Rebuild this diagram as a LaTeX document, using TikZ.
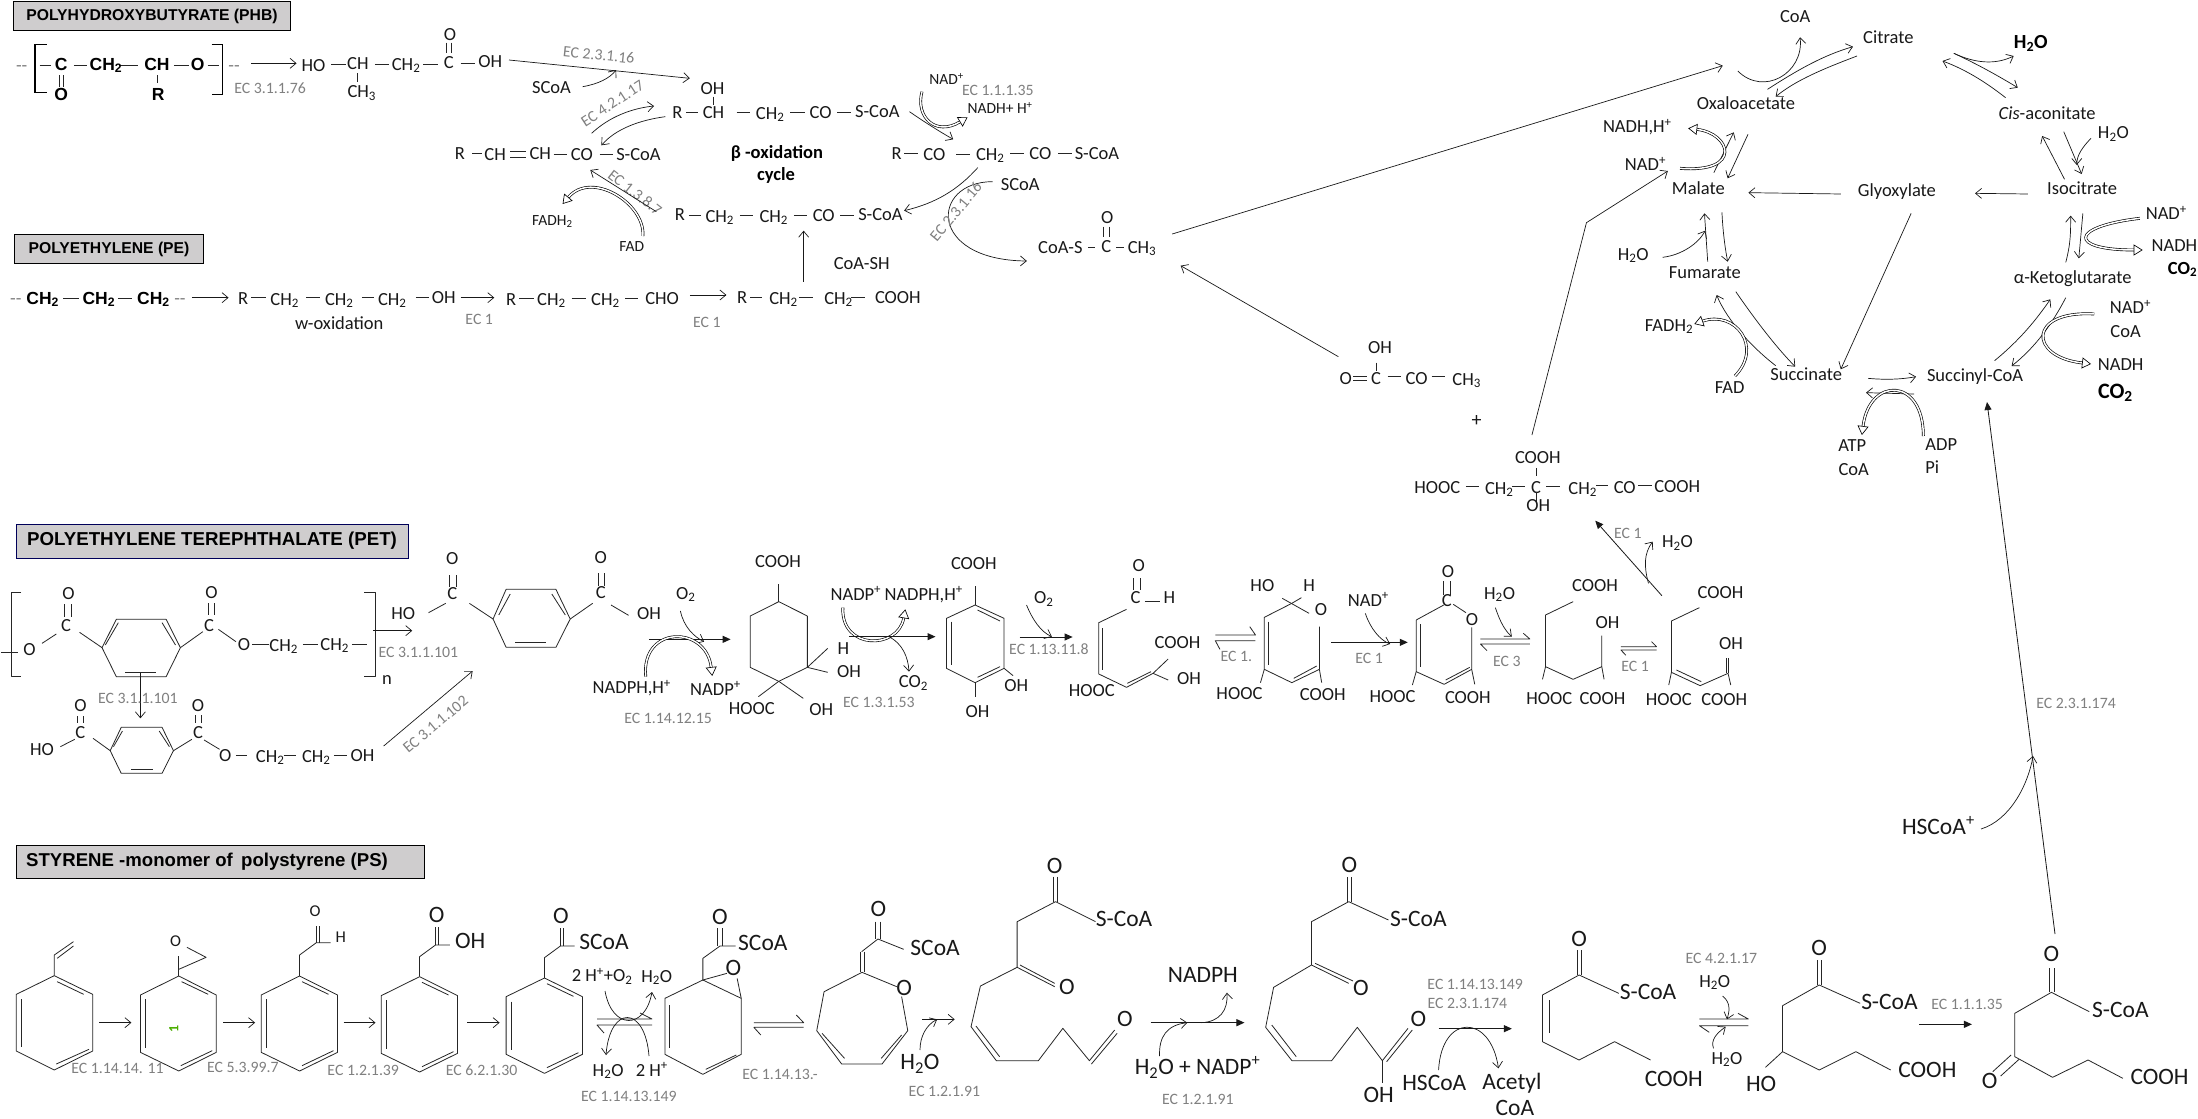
\documentclass[tikz,border=0pt]{standalone}
\usepackage{fontspec}
\setmainfont{Carlito}
\newfontfamily\arb{Liberation Sans}
\usetikzlibrary{arrows.meta}
\newcounter{nn}\newcounter{cc}
\newcommand{\Sb}[1]{\textsubscript{#1}}
\newcommand{\Sp}[1]{\textsuperscript{#1}}
\definecolor{ecgray}{HTML}{808080}
\definecolor{boxgray}{HTML}{CFCDCE}
\tikzset{
 lb/.style={inner sep=0pt,anchor=base,yshift=-6pt,text=black!90,font=\fontsize{18.5}{20}\selectfont},
 ts/.style={inner sep=0pt,anchor=base,yshift=-5pt,text=ecgray,font=\fontsize{15.8}{18}\selectfont},
 tl/.style={inner sep=0pt,anchor=base,yshift=-7.6pt,text=black!90,font=\fontsize{23.5}{26}\selectfont},
 tb/.style={inner sep=0pt,anchor=base,yshift=-6pt,text=black,font=\fontsize{17.5}{20}\selectfont\bfseries\arb},
 tsm/.style={inner sep=0pt,anchor=base,yshift=-5pt,text=black!90,font=\fontsize{15.5}{18}\selectfont},
 tbd/.style={inner sep=0pt,anchor=base,yshift=-6pt,text=black,font=\fontsize{18.5}{20}\selectfont\bfseries},
 bond/.style={line width=0.8pt,draw=black!85,line join=round},
 bondb/.style={line width=1.3pt,draw=black},
 arr/.style={line width=0.7pt,draw=black!90,-{Straight Barb[length=6pt,width=10pt]}},
 farr/.style={line width=1pt,draw=black!90,-{Triangle[length=8pt,width=7pt]}},
 hol/.style={line width=0.65pt,draw=black,double=white,double distance=1.5pt,-{Triangle[open,fill=white,length=9pt,width=11pt]}},
 tbox/.style={draw=black,line width=1pt,fill=boxgray,inner sep=0pt},
}
\newcommand{\Tx}[4][lb]{\stepcounter{nn}\node[#1] (n\arabic{nn}) at (#2,#3) {#4};}
\newcommand{\Bd}[2]{\draw[bond] (#1) -- (#2);}
\newcommand{\Cn}[3][]{\stepcounter{cc}\coordinate (a\arabic{cc}) at (#2);\coordinate (b\arabic{cc}) at (#3);\draw[arr,#1] (a\arabic{cc}) -- (b\arabic{cc});}
\newcommand{\Cv}[5][]{\stepcounter{cc}\coordinate (a\arabic{cc}) at (#2);\coordinate (b\arabic{cc}) at (#5);\draw[arr,#1] (a\arabic{cc}) .. controls (#3) and (#4) .. (b\arabic{cc});}
\begin{document}
\begin{tikzpicture}[x=1pt,y=-1pt]
\useasboundingbox (0,0) rectangle (2198,1119);
\fill[white] (0,0) rectangle (2198,1119);
% title boxes
\node[tbox,minimum width=277pt,minimum height=29pt,font=\fontsize{15.7}{17}\selectfont\bfseries\arb] (tphb) at (152,16) {POLYHYDROXYBUTYRATE (PHB)};
\node[tbox,minimum width=189pt,minimum height=29pt,font=\fontsize{15.7}{17}\selectfont\bfseries\arb] (tpe) at (109,249) {POLYETHYLENE (PE)};
\node[tbox,draw=blue!35!black,minimum width=392pt,minimum height=34pt,font=\fontsize{18.7}{20}\selectfont\bfseries\arb] (tpet) at (212,541) {POLYETHYLENE TEREPHTHALATE (PET)};
\node[tbox,minimum width=408pt,minimum height=33pt] (tps) at (220,862) {};
\node[anchor=west,inner sep=0pt,font=\fontsize{18.6}{20}\selectfont\bfseries\arb] (tpst) at (26,862) {STYRENE -monomer of\, polystyrene (PS)};

% ---------- z1
\begin{scope}[x=0.39541pt,y=-0.33333pt]
\Tx[lb,text=gray]{55}{197}{{-}{-}}
\draw[bondb,line width=1.6pt] (118,133)--(88,133)--(88,278)--(118,278);
\draw[bondb,line width=1.6pt] (535,133)--(563,133)--(563,283)--(535,283);
\Bd{100,197}{130,197}\Bd{187,197}{220,197}\Bd{300,197}{350,197}\Bd{440,197}{478,197}\Bd{525,197}{555,197}
\Tx[tb]{155}{192}{C}\Tx[tb]{268}{192}{CH\Sb{2}}\Tx[tb]{397}{192}{CH}\Tx[tb]{500}{192}{O}\Tx[tb]{155}{282}{O}\Tx[tb]{400}{284}{R}
\Bd{150,225}{150,262}\Bd{161,225}{161,262}\Bd{397,225}{397,250}
\Tx[lb,text=gray]{592}{197}{{-}{-}}
\Cn{635,190}{750,190}
\Tx[ts]{683}{265}{EC 3.1.1.76}
\Tx{793}{195}{HO}\Bd{838,193}{875,193}\Tx{905}{190}{CH}\Bd{948,193}{985,193}\Tx{1027}{192}{CH\Sb{2}}\Bd{1070,193}{1108,193}\Tx{1135}{188}{C}\Bd{1165,190}{1200,190}\Tx{1240}{184}{OH}
\Tx{1138}{102}{O}\Bd{1130,128}{1130,158}\Bd{1142,128}{1142,158}\Tx{915}{275}{CH\Sb{3}}\Bd{905,220}{905,245}
% PE row
\Tx[lb,text=gray]{40}{895}{{-}{-}}
\Tx[tb]{108}{895}{CH\Sb{2}}\Bd{160,895}{200,895}\Tx[tb]{250}{895}{CH\Sb{2}}\Bd{298,895}{335,895}\Tx[tb]{388}{895}{CH\Sb{2}}
\Tx[lb,text=gray]{455}{895}{{-}{-}}
\Cn{485,893}{578,893}
\Tx{615}{895}{R}\Bd{635,893}{672,893}\Tx{720}{898}{CH\Sb{2}}\Bd{775,893}{810,893}\Tx{858}{898}{CH\Sb{2}}\Bd{915,893}{945,893}\Tx{992}{898}{CH\Sb{2}}\Bd{1052,893}{1085,893}\Tx{1122}{892}{OH}
\Cn{1165,893}{1250,893}
\Tx{858}{972}{w-oxidation}
\Tx[ts]{1212}{960}{EC 1}
\end{scope}

% ---------- z2
\begin{scope}[x=0.44643pt,y=-0.33333pt,shift={(480pt,0pt)}]
\Cn{65,180}{470,235}
\Tx[ts,rotate=-6]{265}{165}{EC 2.3.1.16}
\Tx{160}{262}{SCoA}
\Cv{230,260}{265,252}{290,235}{305,210}
\Tx[ts,rotate=33]{303}{308}{EC 4.2.1.17}
\Tx{521}{265}{OH}\Bd{523,290}{523,315}
\Tx{442}{337}{R}\Bd{462,338}{488,338}\Tx{523}{337}{CH}\Bd{575,338}{605,338}\Tx{650}{340}{CH\Sb{2}}\Bd{695,338}{727,338}\Tx{763}{337}{CO}\Bd{800,338}{832,338}\Tx{890}{335}{S-CoA}
\Cv{250,400}{290,350}{340,325}{390,318}
\Cv{415,350}{360,360}{305,385}{272,436}
% R-CH=CH-CO
\Tx{-45}{460}{R}\Bd{-17,460}{5,460}\Tx{34}{463}{CH}
\Tx{135}{460}{CH}\Bd{68,455}{104,455}\Bd{68,471}{104,471}\Tx{228}{463}{CO}\Bd{165,462}{195,462}\Bd{268,462}{298,462}\Tx{355}{463}{S-CoA}
\Tx[ts,rotate=-38]{340}{575}{EC 1.3.8.7}
\Cn{395,635}{247,510}
\Tx[tsm]{162}{660}{FADH\Sb{2}}\Tx[tsm]{340}{738}{FAD}
\stepcounter{cc}\coordinate (a\arabic{cc}) at (365,708);\coordinate (b\arabic{cc}) at (185,612);
\draw[hol] (a\arabic{cc}) .. controls (370,610) and (250,510) .. (b\arabic{cc});
\Tx[tbd]{665}{458}{β -oxidation}\Tx[tbd]{663}{523}{cycle}
\Tx[tsm]{1045}{238}{NAD\Sp{+}}\Tx[ts]{1160}{270}{EC 1.1.1.35}\Tx[tsm]{1165}{325}{NADH+ H\Sp{+}}
\Cv{962,335}{1000,370}{1030,395}{1060,418}
\stepcounter{cc}\coordinate (a\arabic{cc}) at (990,275);\coordinate (b\arabic{cc}) at (1092,352);
\draw[hol] (a\arabic{cc}) .. controls (975,350) and (1020,410) .. (b\arabic{cc});
\Tx{933}{460}{R}\Bd{950,460}{980,460}\Tx{1018}{463}{CO}\Bd{1067,462}{1098,462}\Tx{1143}{463}{CH\Sb{2}}\Bd{1188,460}{1218,460}\Tx{1255}{460}{CO}\Bd{1295,460}{1325,460}\Tx{1382}{460}{S-CoA}
\Tx{1210}{553}{SCoA}
\Cv{1115,503}{1070,570}{1020,610}{950,632}
\Cv{1148,545}{1010,545}{1000,780}{1225,783}
\Tx[ts,rotate=50]{1075}{630}{EC 2.3.1.16}
\Tx{448}{643}{R}\Bd{468,645}{495,645}\Tx{537}{648}{CH\Sb{2}}\Bd{582,645}{612,645}\Tx{658}{648}{CH\Sb{2}}\Bd{703,645}{733,645}\Tx{770}{645}{CO}\Bd{807,645}{838,645}\Tx{897}{643}{S-CoA}
\Cn{725,845}{725,692}
\Tx{855}{790}{CoA-SH}
\Tx{1300}{742}{CoA-S}\Bd{1362,742}{1378,742}\Tx{1403}{740}{C}\Bd{1425,742}{1442,742}\Tx{1483}{742}{CH\Sb{3}}\Tx{1405}{652}{O}\Bd{1397,680}{1397,712}\Bd{1410,680}{1410,712}
\Tx{70}{897}{R}\Bd{88,895}{120,895}\Tx{160}{898}{CH\Sb{2}}\Bd{205,895}{238,895}\Tx{281}{898}{CH\Sb{2}}\Bd{325,895}{355,895}\Tx{408}{895}{CHO}
\Cn{470,885}{552,885}
\Tx[ts]{508}{968}{EC 1}
\Tx{587}{892}{R}\Bd{605,893}{632,893}\Tx{680}{895}{CH\Sb{2}}\Bd{715,893}{745,893}\Tx{803}{895}{CH\Sb{2}}\Bd{830,893}{862,893}\Tx{936}{892}{COOH}
\end{scope}

% ---------- z10 pyruvate etc
\begin{scope}[x=0.33333pt,y=-0.33333pt,shift={(1160pt,-220pt)}]
\Cn{535,410}{62,137}
\Tx{660}{382}{OH}\Bd{650,428}{650,452}
\Tx{557}{475}{O}\Bd{580,468}{620,468}\Bd{580,480}{620,480}\Tx{648}{475}{C}\Bd{683,470}{722,470}\Tx{770}{475}{CO}\Bd{815,468}{855,468}\Tx{920}{478}{CH\Sb{3}}
\Tx[lb,font=\fontsize{20}{22}\selectfont]{950}{600}{+}
\end{scope}

% ---------- z3 TCA
\begin{scope}[x=0.40689pt,y=-0.33333pt,shift={(1560pt,0pt)}]
\Cn{-953,702}{400,197}
\Tx{578}{48}{CoA}\Tx{807}{112}{Citrate}
\Tx[tbd,font=\fontsize{20}{22}\selectfont\bfseries]{1157}{127}{H\Sb{2}O}
\Tx{457}{310}{Oxaloacetate}\Tx{1197}{340}{\textit{Cis}-aconitate}
\Tx{190}{380}{NADH,H\Sp{+}}\Tx{1360}{398}{H\Sb{2}O}\Tx{210}{493}{NAD\Sp{+}}
\Tx{340}{565}{Malate}\Tx{828}{572}{Glyoxylate}\Tx{1283}{565}{Isocitrate}
\Tx{1490}{640}{NAD\Sp{+}}\Tx{1510}{735}{NADH}\Tx[tbd]{1530}{805}{CO\Sb{2}}
\Tx{356}{817}{Fumarate}\Tx{1260}{832}{α-Ketoglutarate}\Tx{1402}{923}{NAD\Sp{+}}
\Tx{268}{975}{FADH\Sb{2}}\Tx{1390}{995}{CoA}\Tx{1378}{1095}{NADH}\Tx{605}{1122}{Succinate}\Tx{1020}{1125}{Succinyl-CoA}\Tx{417}{1162}{FAD}
\Tx[tbd,font=\fontsize{22}{24}\selectfont\bfseries]{1365}{1178}{CO\Sb{2}}
\Tx{937}{1333}{ADP}\Tx{718}{1338}{ATP}\Tx{915}{1402}{Pi}\Tx{722}{1408}{CoA}\Tx{180}{763}{H\Sb{2}O}
\Cv{437,213}{500,290}{600,220}{590,112}
\Cv{510,268}{590,205}{650,165}{720,140}
\Cv{730,168}{650,205}{580,240}{530,290}
\Cv{968,160}{1030,195}{1080,230}{1125,263}
\Cv{968,160}{1020,190}{1070,195}{1115,168}
\Cv{1095,293}{1050,250}{1000,210}{940,183}
\Cn{1238,395}{1282,522}
\Cv{1305,415}{1285,440}{1270,465}{1270,495}
\Cn{1240,538}{1185,408}
\Cn{462,403}{412,535}
\Cn{378,518}{427,397}
\stepcounter{cc}\coordinate (a\arabic{cc}) at (295,505);\coordinate (b\arabic{cc}) at (315,385);
\draw[hol] (a\arabic{cc}) .. controls (450,520) and (420,400) .. (b\arabic{cc});
\stepcounter{cc}\coordinate (a\arabic{cc}) at (-69,1305);\coordinate (c\arabic{cc}) at (65,668);\coordinate (b\arabic{cc}) at (265,513);
\draw[arr] (a\arabic{cc}) -- (c\arabic{cc}) -- (b\arabic{cc});
\Cn{690,582}{463,578}
\Cn{1150,582}{1020,580}
\Cn{863,640}{690,1108}
\Cv{398,637}{400,690}{405,740}{412,785}
\Cn{363,785}{355,640}
\Cv{252,772}{300,765}{340,730}{357,692}
\Cv{432,875}{480,960}{530,1040}{578,1100}
\Cv{530,1097}{470,1040}{410,960}{385,885}
\stepcounter{cc}\coordinate (a\arabic{cc}) at (430,1128);\coordinate (b\arabic{cc}) at (330,972);
\draw[hol] (a\arabic{cc}) .. controls (500,1040) and (430,930) .. (b\arabic{cc});
\Cv{757,1135}{800,1140}{840,1138}{875,1130}
\Cn{870,1182}{752,1178}
\stepcounter{cc}\coordinate (a\arabic{cc}) at (893,1308);\coordinate (b\arabic{cc}) at (742,1305);
\draw[hol] (a\arabic{cc}) .. controls (893,1130) and (760,1130) .. (b\arabic{cc});
\Cv{1068,1082}{1130,1020}{1170,960}{1205,898}
\Cv{1243,893}{1210,970}{1170,1040}{1110,1098}
\stepcounter{cc}\coordinate (a\arabic{cc}) at (1313,942);\coordinate (b\arabic{cc}) at (1305,1092);
\draw[hol] (a\arabic{cc}) .. controls (1150,930) and (1150,1070) .. (b\arabic{cc});
\Cn{1285,640}{1275,775}
\Cv{1243,787}{1255,730}{1255,700}{1255,647}
\stepcounter{cc}\coordinate (a\arabic{cc}) at (1425,655);\coordinate (b\arabic{cc}) at (1432,750);
\draw[hol] (a\arabic{cc}) .. controls (1250,680) and (1250,750) .. (b\arabic{cc});
\end{scope}

% long arrow, HSCoA
\stepcounter{cc}\coordinate (a\arabic{cc}) at (2055,934);\coordinate (b\arabic{cc}) at (1987,402);
\draw[farr,line width=0.8pt] (a\arabic{cc}) -- (b\arabic{cc});
\Tx[ts]{2076}{703}{EC 2.3.1.174}
\Cv{1981,829}{2010,820}{2028,785}{2033,756}

% ---------- z4 PET
\begin{scope}[x=0.40816pt,y=-0.33333pt,shift={(0pt,-510pt)}]
\draw[bond] (52,247)--(28,247)--(28,500)--(52,500);
\draw[bond] (893,247)--(920,247)--(920,500)--(893,500);
\Bd{2,428}{45,428}\Tx{72}{418}{O}\Bd{103,400}{138,372}\Tx{162}{345}{C}\Tx{168}{250}{O}\Bd{158,283}{158,320}\Bd{176,283}{176,320}\Bd{195,367}{250,413}
\draw[bond] (285,328)--(407,328)--(442,413)--(407,500)--(285,500)--(250,413)--cycle;
\Bd{290,338}{258,405}\Bd{397,338}{430,405}\Bd{307,488}{383,488}
\Bd{442,413}{497,365}\Tx{512}{345}{C}\Tx{518}{247}{O}\Bd{510,280}{510,315}\Bd{526,280}{526,315}\Bd{535,358}{578,395}
\Tx{598}{403}{O}\Bd{618,403}{658,403}\Tx{695}{405}{CH\Sb{2}}\Bd{742,403}{780,403}\Tx{820}{403}{CH\Sb{2}}\Bd{862,403}{898,403}
\Tx{948}{505}{n}
\Cn{915,362}{1010,362}
\Tx[ts]{1025}{427}{EC 3.1.1.101}
\Cn{344,490}{344,625}
\Tx[ts]{338}{565}{EC 3.1.1.101}
\Tx{197}{587}{O}\Bd{190,618}{190,640}\Bd{205,618}{205,640}\Tx{197}{668}{C}\Tx{103}{718}{HO}\Bd{148,710}{183,688}\Bd{228,685}{270,722}
\draw[bond] (297,652)--(397,652)--(425,722)--(397,790)--(297,790)--(270,722)--cycle;
\Bd{300,663}{278,710}\Bd{390,663}{415,710}\Bd{322,778}{375,778}
\Bd{425,722}{470,688}\Tx{485}{668}{C}\Tx{485}{585}{O}\Bd{478,615}{478,640}\Bd{493,615}{493,640}\Bd{500,690}{538,718}
\Tx{552}{735}{O}\Bd{578,735}{605,735}\Tx{662}{738}{CH\Sb{2}}\Bd{695,735}{725,735}\Tx{775}{738}{CH\Sb{2}}\Bd{818,735}{850,735}\Tx{888}{735}{OH}
\Cn{940,708}{1158,483}
\Tx[ts,rotate=40]{1075}{640}{EC 3.1.1.102}
\Tx{1108}{145}{O}\Bd{1100,195}{1100,232}\Bd{1118,195}{1118,232}\Tx{1108}{250}{C}\Tx{988}{310}{HO}\Bd{1050,308}{1092,280}\Bd{1150,280}{1208,327}
\draw[bond] (1240,238)--(1362,238)--(1397,327)--(1362,412)--(1240,412)--(1208,327)--cycle;
\Bd{1250,252}{1222,315}\Bd{1352,252}{1385,315}\Bd{1262,398}{1338,398}
\Bd{1397,327}{1452,280}\Tx{1472}{248}{C}\Tx{1472}{142}{O}\Bd{1465,190}{1465,227}\Bd{1482,190}{1482,227}\Bd{1497,285}{1540,316}
\end{scope}

% ---------- z5
\begin{scope}[x=0.40816pt,y=-0.33333pt,shift={(600pt,-510pt)}]
\Tx{120}{310}{OH}\Tx{210}{250}{O\Sb{2}}
\Cn[farr]{120,388}{320,388}
\Cv{197,303}{205,350}{230,380}{255,395}
\stepcounter{cc}\coordinate (a\arabic{cc}) at (112,500);\coordinate (b\arabic{cc}) at (275,498);
\draw[hol] (a\arabic{cc}) .. controls (100,345) and (260,345) .. (b\arabic{cc});
\Tx{78}{533}{NADPH,H\Sp{+}}\Tx{283}{537}{NADP\Sp{+}}\Tx[ts]{167}{625}{EC 1.14.12.15}
\Tx{436}{153}{COOH}\Bd{438,223}{438,275}
\draw[bond] (438,275)--(508,318)--(508,472)--(438,514)--(368,472)--(368,318)--cycle;
\Bd{508,472}{558,415}\Tx{596}{415}{H}\Bd{508,472}{558,487}\Tx{610}{483}{OH}\Bd{438,514}{388,560}\Tx{372}{595}{HOOC}\Bd{438,514}{498,565}\Tx{542}{597}{OH}
\Tx{627}{252}{NADP\Sp{+}}\Tx{793}{252}{NADPH,H\Sp{+}}
\stepcounter{cc}\coordinate (a\arabic{cc}) at (595,293);\coordinate (b\arabic{cc}) at (748,298);
\draw[hol] (a\arabic{cc}) .. controls (590,420) and (730,420) .. (b\arabic{cc});
\Cn[farr]{610,380}{822,380}
\Cv{708,380}{740,400}{755,440}{757,485}
\Tx{768}{515}{CO\Sb{2}}\Tx[ts]{683}{577}{EC 1.3.1.53}
\Tx{916}{160}{COOH}\Bd{919,228}{919,285}
\draw[bond] (919,285)--(990,325)--(990,475)--(919,518)--(849,475)--(849,325)--cycle;
\Bd{925,300}{980,333}\Bd{860,335}{860,465}\Bd{925,502}{980,470}
\Bd{990,475}{1012,497}\Tx{1020}{527}{OH}\Bd{919,518}{919,560}\Tx{925}{605}{OH}
\Tx{1087}{263}{O\Sb{2}}
\Cv{1045,285}{1060,330}{1080,365}{1107,380}
\Cn[farr]{1028,381}{1158,381}
\Tx[ts]{1100}{418}{EC 1.13.11.8}
\Tx{1320}{165}{O}\Bd{1307,205}{1307,240}\Bd{1323,205}{1323,240}\Tx{1312}{262}{C}\Bd{1335,275}{1372,275}\Tx{1395}{262}{H}
\draw[bond] (1290,298)--(1222,338)--(1222,492)--(1290,532)--(1355,490);
\Bd{1232,355}{1232,480}\Bd{1292,520}{1350,485}
\Tx{1205}{540}{HOOC}\Tx{1415}{397}{COOH}\Bd{1355,490}{1392,447}\Bd{1355,490}{1392,510}\Tx{1443}{505}{OH}
\end{scope}

% ---------- z6
\begin{scope}[x=0.38265pt,y=-0.33333pt,shift={(1200pt,-420pt)}]
\draw[bond] (130,620)--(145,645)--(40,645);\draw[bond] (145,662)--(40,662)--(52,688);
\Tx[ts]{95}{708}{EC 1.}
\Tx{163}{495}{HO}\Tx{285}{495}{H}\Tx{316}{568}{O}
\Bd{215,535}{285,580}\Bd{240,550}{265,533}
\draw[bond] (240,550)--(168,592)--(168,748)--(240,788)--(312,748)--(312,620);
\Bd{178,605}{178,735}\Bd{245,775}{305,738}\Bd{168,748}{158,788}\Bd{312,748}{318,788}
\Tx{103}{820}{HOOC}\Tx{321}{822}{COOH}
\Cn[farr]{343,667}{543,667}
\Tx{440}{540}{NAD\Sp{+}}
\Cv{432,580}{445,625}{470,660}{497,672}
\Tx[ts]{442}{715}{EC 1}
\Tx{648}{455}{O}\Bd{637,483}{637,525}\Bd{654,483}{654,525}\Tx{645}{540}{C}
\Bd{565,600}{637,555}\Bd{662,553}{695,578}\Tx{711}{598}{O}
\draw[bond] (710,622)--(710,748)--(638,793)--(565,755)--(565,600);
\Bd{577,612}{577,742}\Bd{642,780}{705,742}\Bd{565,755}{555,795}\Bd{710,748}{718,793}
\Tx{503}{830}{HOOC}\Tx{700}{833}{COOH}
\draw[bond] (845,640)--(862,657)--(733,657);\draw[bond] (862,672)--(733,672)--(750,692);
\Tx{783}{520}{H\Sb{2}O}
\Cv{772,563}{785,610}{800,635}{815,650}
\Tx[ts]{802}{723}{EC 3}
\Tx{1032}{495}{COOH}
\draw[bond] (975,545)--(903,585)--(903,740)--(975,778)--(1050,740)--(1050,647);
\Tx{1065}{607}{OH}\Bd{903,740}{895,778}\Bd{1050,740}{1056,778}
\Tx{913}{835}{HOOC}\Tx{1052}{835}{COOH}
\draw[bond] (1180,665)--(1193,680)--(1100,680);\draw[bond] (1193,690)--(1100,690)--(1113,706);
\Tx[ts]{1137}{738}{EC 1}
\Tx{1360}{517}{COOH}
\draw[bond] (1305,563)--(1232,603)--(1232,757)--(1307,797)--(1380,760);
\Bd{1245,750}{1310,785}\Bd{1375,715}{1375,760}\Bd{1382,715}{1382,760}
\Tx{1388}{670}{OH}\Bd{1232,757}{1225,795}\Bd{1380,760}{1387,795}
\Tx{1225}{838}{HOOC}\Tx{1370}{838}{COOH}
\Cn[farr,line width=0.8pt]{1207,527}{1033,302}
\Tx{1248}{365}{H\Sb{2}O}
\Cv{1172,490}{1160,440}{1160,400}{1183,365}
\Tx[ts]{1118}{340}{EC 1}
\Tx{883}{112}{COOH}\Bd{878,145}{878,167}
\Tx{620}{203}{HOOC}\Bd{695,200}{730,200}\Tx{782}{205}{CH\Sb{2}}\Bd{815,200}{848,200}\Tx{878}{203}{C}\Bd{905,200}{940,200}\Tx{1000}{205}{CH\Sb{2}}\Bd{1035,195}{1065,195}\Tx{1110}{203}{CO}\Bd{1145,195}{1180,195}\Tx{1247}{198}{COOH}
\Bd{880,215}{880,245}\Tx{884}{257}{OH}
\end{scope}

% ---------- z7 styrene
\begin{scope}[x=0.40816pt,y=-0.33333pt,shift={(0pt,-840pt)}]
\draw[bond] (133,407)--(227,463)--(227,633)--(133,690)--(40,633)--(40,463)--cycle;
\Bd{140,425}{205,463}\Bd{52,478}{52,620}\Bd{138,672}{218,628}
\draw[bond] (133,407)--(133,345)--(180,305);\Bd{140,355}{180,318}
\Cn{243,548}{322,548}
\Tx[ts]{288}{685}{EC 1.14.14. 11}
\draw[bond] (438,408)--(530,465)--(530,637)--(438,693)--(344,637)--(344,465)--cycle;
\Bd{445,425}{510,463}\Bd{357,478}{357,625}\Bd{443,677}{520,632}
\draw[bond] (438,408)--(438,348);\draw[bond] (438,388)--(505,352)--(458,322);
\Tx[lb,font=\fontsize{16.5}{18}\selectfont]{430}{300}{O}
\Tx[ts,text=green!55!black!70!yellow,rotate=90,font=\fontsize{14}{16}\selectfont\bfseries]{437}{552}{1}
\Tx[ts]{595}{682}{EC 5.3.99.7}
\Cn{547,548}{625,548}
\draw[bond] (734,408)--(827,465)--(827,637)--(734,693)--(640,637)--(640,465)--cycle;
\Bd{740,425}{805,463}\Bd{652,478}{652,625}\Bd{740,677}{817,632}
\draw[bond] (734,408)--(734,345)--(775,308)--(810,308);\Bd{775,258}{775,308}\Bd{783,258}{783,308}
\Tx[lb,font=\fontsize{16.5}{18}\selectfont]{772}{210}{O}\Tx[lb,font=\fontsize{16.5}{18}\selectfont]{835}{290}{H}
\Tx[ts]{890}{690}{EC 1.2.1.39}
\Cn{842,548}{920,548}
\draw[bond] (1028,410)--(1121,467)--(1121,640)--(1028,696)--(934,640)--(934,467)--cycle;
\Bd{1034,427}{1099,465}\Bd{946,480}{946,627}\Bd{1034,680}{1111,635}
\draw[bond] (1028,410)--(1028,350)--(1067,315)--(1102,315);\Bd{1067,262}{1067,315}\Bd{1075,262}{1075,315}
\Tx[tl]{1070}{225}{O}\Tx[tl]{1152}{303}{OH}
\Tx[ts]{1180}{692}{EC 6.2.1.30}
\Cn{1145,548}{1224,548}
\draw[bond] (1334,414)--(1427,470)--(1427,643)--(1334,700)--(1240,643)--(1240,470)--cycle;
\Bd{1340,431}{1405,469}\Bd{1252,485}{1252,630}\Bd{1340,683}{1417,638}
\draw[bond] (1334,414)--(1334,353)--(1373,318)--(1408,318);\Bd{1373,265}{1373,318}\Bd{1381,265}{1381,318}
\Tx[tl]{1374}{228}{O}\Tx[tl]{1480}{305}{SCoA}
\Tx{1475}{407}{2 H\Sp{+}+O\Sb{2}}\Tx{1490}{690}{H\Sb{2}O}
\Tx[ts]{1541}{768}{EC 1.14.13.149}
\end{scope}

% equilibrium at ~ (597..652,1019)
\draw[bond] (640,1013)--(652,1019)--(597,1019);
\draw[bond] (652,1025)--(597,1025)--(604,1033);
\Cv{605,991}{612,1030}{645,1030}{652,992}
\Cv{649,1056}{645,1005}{610,1005}{606,1055}

% ---------- z8
\begin{scope}[x=0.40816pt,y=-0.33333pt,shift={(620pt,-840pt)}]
\Tx{90}{408}{H\Sb{2}O}\Tx{78}{690}{2 H\Sp{+}}
\Tx[tl]{245}{232}{O}\Bd{238,265}{238,318}\Bd{250,265}{250,318}
\draw[bond] (283,318)--(245,318)--(203,355)--(203,420);
\Tx[tl]{350}{310}{SCoA}
\draw[bond] (203,420)--(297,475)--(297,643)--(203,703)--(110,643)--(110,475)--cycle;
\Bd{122,495}{122,625}\Bd{210,688}{285,645}
\Bd{203,420}{262,400}\Tx[tl]{278}{383}{O}\Bd{287,415}{297,475}
\draw[bond] (432,525)--(450,548)--(328,548);\draw[bond] (450,562)--(328,562)--(345,585);
\Tx[ts]{392}{703}{EC 1.14.13.-}
\Tx[tl]{633}{207}{O}\Bd{626,245}{626,297}\Bd{638,245}{638,297}
\draw[bond] (695,328)--(632,297)--(592,335);\Tx[tl]{772}{325}{SCoA}
\Bd{590,335}{590,397}\Bd{598,335}{598,397}
\draw[bond] (678,440)--(593,397)--(500,455)--(482,572)--(543,672)--(642,672)--(705,572)--(690,470);
\Tx[tl]{696}{445}{O}\Bd{495,580}{550,655}\Bd{640,655}{690,585}
\Cn{740,538}{820,538}
\Tx[tl]{735}{665}{H\Sb{2}O}
\Cv{735,630}{735,590}{750,555}{777,538}
\Tx[ts]{795}{755}{EC 1.2.1.91}
\Tx[tl]{1065}{78}{O}\Bd{1062,110}{1062,185}\Bd{1072,110}{1072,185}
\draw[bond] (1165,245)--(1067,185)--(973,245)--(973,382);\Tx[tl]{1235}{238}{S-CoA}
\Bd{973,382}{1065,440}\Bd{980,375}{1065,430}\Tx[tl]{1095}{442}{O}
\draw[bond] (973,382)--(883,438)--(860,560)--(922,662)--(1025,662)--(1085,565)--(1150,662)--(1212,570);
\Bd{872,558}{930,650}\Bd{1155,672}{1218,580}\Tx[tl]{1237}{537}{O}
\Cn[farr]{1300,548}{1530,548}
\Tx[tl]{1428}{405}{NADPH}
\Cv{1425,548}{1470,545}{1490,510}{1487,458}
\Tx[tl]{1415}{680}{H\Sb{2}O + NADP\Sp{+}}
\Cv{1322,648}{1320,590}{1340,555}{1390,548}
\Tx[ts]{1416}{777}{EC 1.2.1.91}
\end{scope}

% ---------- z9
\begin{scope}[x=0.61097pt,y=-0.33333pt,shift={(1240pt,-780pt)}]
\Tx[tl]{179}{255}{O}\Bd{175,292}{175,365}\Bd{183,292}{183,365}
\draw[bond] (243,420)--(178,365)--(117,425)--(117,555);\Tx[tl]{292}{418}{S-CoA}
\Bd{117,555}{178,610}\Bd{123,550}{185,603}\Tx[tl]{198}{625}{O}
\draw[bond] (117,555)--(55,622)--(42,742)--(85,842)--(150,842)--(192,742)--(233,842)--(275,745);
\Bd{52,735}{92,830}\Bd{240,845}{282,750}\Tx[tl]{292}{716}{O}\Bd{233,842}{233,910}\Tx[tl]{227}{945}{OH}
\Tx[ts]{385}{613}{EC 1.14.13.149}\Tx[ts]{372}{670}{EC 2.3.1.174}
\Cn[farr]{325,746}{445,746}
\Cv{325,870}{330,700}{410,700}{423,865}
\Tx[tl]{318}{908}{HSCoA}\Tx[tl]{445}{905}{Acetyl}\Tx[tl]{450}{985}{CoA}
\Tx[tl]{555}{478}{O}\Bd{552,510}{552,585}\Bd{558,510}{558,585}
\draw[bond] (620,640)--(555,585)--(495,645)--(495,785)--(555,840)--(613,785)--(672,840);
\Tx[tl]{668}{635}{S-CoA}\Bd{507,660}{507,760}\Tx[tl]{710}{898}{COOH}
\Tx[ts]{788}{535}{EC 4.2.1.17}\Tx{777}{603}{H\Sb{2}O}
\Cv{790,648}{805,670}{800,700}{797,718}
\draw[bond] (815,700)--(832,717)--(752,717);\draw[bond] (832,737)--(752,737)--(768,757);
\Tx{797}{835}{H\Sb{2}O}
\Cv{775,805}{770,780}{780,760}{795,740}
\Tx[tl]{948}{503}{O}\Bd{945,540}{945,615}\Bd{952,540}{952,615}
\draw[bond] (1015,670)--(948,615)--(888,677)--(888,815)--(860,862);
\draw[bond] (888,815)--(948,870)--(1008,815)--(1065,870);
\Tx[tl]{1063}{665}{S-CoA}\Tx[tl]{853}{912}{HO}\Tx[tl]{1125}{870}{COOH}
\Tx[ts]{1190}{674}{EC 1.1.1.35}
\Cn[farr]{1112,733}{1198,733}
\Tx[tl]{1328}{523}{O}\Bd{1325,565}{1325,637}\Bd{1333,565}{1333,637}
\draw[bond] (1390,695)--(1328,637)--(1268,700)--(1268,830)--(1330,892)--(1388,840)--(1445,895);
\Tx[tl]{1441}{690}{S-CoA}\Bd{1262,825}{1232,875}\Bd{1275,838}{1245,888}\Tx[tl]{1227}{902}{O}\Tx[tl]{1505}{890}{COOH}
\Tx[tl]{1143}{140}{HSCoA\Sp{+}}
\end{scope}
\end{tikzpicture}
\end{document}
